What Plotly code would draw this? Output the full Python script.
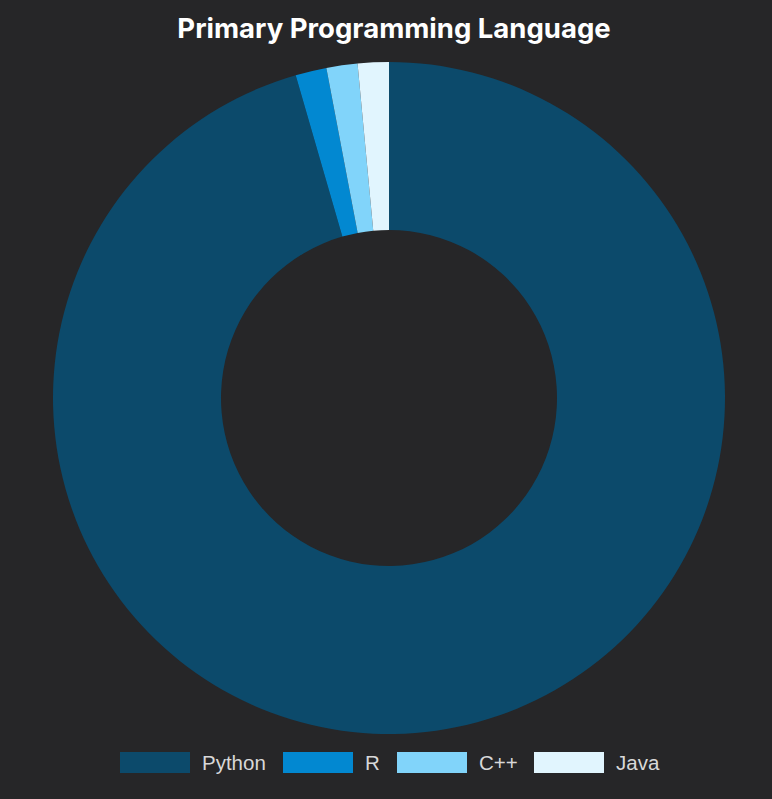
import plotly.graph_objects as go

W, H = 772, 799

languages = ['Python', 'R', 'C++', 'Java']
counts = [64, 1, 1, 1]
colors = ['#0c4a6b', '#0288d1', '#81d4fa', '#e1f5fe']

bg = '#262628'

fig = go.Figure(go.Pie(
    labels=languages,
    values=counts,
    hole=0.5,
    sort=False,
    direction='clockwise',
    rotation=0,
    marker=dict(colors=colors, line=dict(width=0)),
    textinfo='none',
    hoverinfo='label+value',
    domain=dict(x=[53 / W, 725 / W], y=[1 - 734 / H, 1 - 62 / H]),
    showlegend=False,
))

# legend drawn by hand, chart.js style wide swatches
swatch_left = [120, 283, 397, 534]
for name, col, x0 in zip(languages, colors, swatch_left):
    fig.add_shape(type='rect', xref='paper', yref='paper',
                  x0=x0 / W, x1=(x0 + 70) / W,
                  y0=1 - 773 / H, y1=1 - 752 / H,
                  fillcolor=col, line=dict(width=0))
    fig.add_annotation(x=(x0 + 80) / W, y=1 - 762 / H, xref='paper', yref='paper',
                       text=name, showarrow=False, xanchor='left', yanchor='middle',
                       font=dict(family='Liberation Sans, Arial', size=20.5, color='#d8d8d8'))

fig.update_layout(
    width=W, height=H,
    paper_bgcolor=bg, plot_bgcolor=bg,
    margin=dict(l=0, r=0, t=0, b=0),
    title=dict(text='<b>Primary Programming Language</b>',
               x=394 / W, xanchor='center', y=1 - 28 / H, yanchor='middle',
               font=dict(family='Inter, Roboto, sans-serif', size=27.5, color='#ffffff')),
)

# drop the default page margin so the figure fills the window
fig.write_html('out.html',
               config={'displayModeBar': False},
               post_script="document.body.style.margin='0';document.body.style.background='%s';" % bg)
